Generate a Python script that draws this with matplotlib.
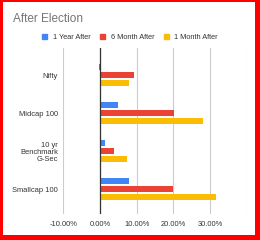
import matplotlib
matplotlib.use("Agg")
from matplotlib import pyplot as plt
from matplotlib.patches import Patch, Rectangle
from matplotlib.ticker import FuncFormatter
import numpy as np

plt.rcParams['font.family'] = ['Liberation Sans', 'DejaVu Sans']

categorias = ["Nifty", "Midcap 100", "10 yr\nBenchmark\nG-Sec", "Smallcap 100"]
series = ["1 Year After", "6 Month After", "1 Month After"]
un_anio = [-0.4, 4.8, 1.5, 7.9]
seis_meses = [9.2, 20.1, 3.8, 19.9]
un_mes = [8.0, 28.2, 7.4, 31.7]
colores = ["#4285F4", "#EA4335", "#FBBC04"]

fig = plt.figure(figsize=[2.6, 2.4], dpi=100)
ax = fig.add_axes([0.2436, 0.108, 0.705, 0.692])

y = np.arange(len(categorias))
alto = 0.16
desp = 0.215
for k, valores in enumerate([un_anio, seis_meses, un_mes]):
    ax.barh(y + (k - 1) * desp, valores, height=alto, color=colores[k], zorder=3)

ax.set_xlim(-10, 40)
ax.set_ylim(3.66, -0.72)
ax.set_xticks([-10, 0, 10, 20, 30, 40])
ax.xaxis.set_major_formatter(FuncFormatter(lambda v, p: "" if v == 40 else "%.2f%%" % v))
ax.set_yticks(y)
ax.set_yticklabels(categorias, linespacing=1.0)
ax.tick_params(axis="both", length=0, labelsize=5.4, colors="#333333")
ax.tick_params(axis="y", pad=4)
ax.tick_params(axis="x", pad=5)
ax.grid(axis="x", color="#cccccc", lw=0.8, zorder=0)
ax.axvline(0, color="#333333", lw=0.9, zorder=4)
for s in ax.spines.values():
    s.set_visible(False)

fig.text(0.05, 0.92, "After Election", fontsize=8.5, color="#757575", va="center")

manijas = [Patch(color=c) for c in colores]
fig.legend(manijas, series, loc="center", bbox_to_anchor=(0.5, 0.845), ncol=3,
           frameon=False, fontsize=5.3, handlelength=0.75, handleheight=0.75,
           handletextpad=0.7, columnspacing=1.3, borderaxespad=0, labelcolor="#333333")

# marco rojo
for (x0, y0, w, h) in [(0, 0, 0.012, 1), (0.98, 0, 0.02, 1),
                       (0, 0.992, 1, 0.008), (0, 0, 1, 0.02)]:
    fig.patches.append(Rectangle((x0, y0), w, h, transform=fig.transFigure,
                                 color="#ff0000", lw=0))

fig.savefig("out.png", dpi=100)
